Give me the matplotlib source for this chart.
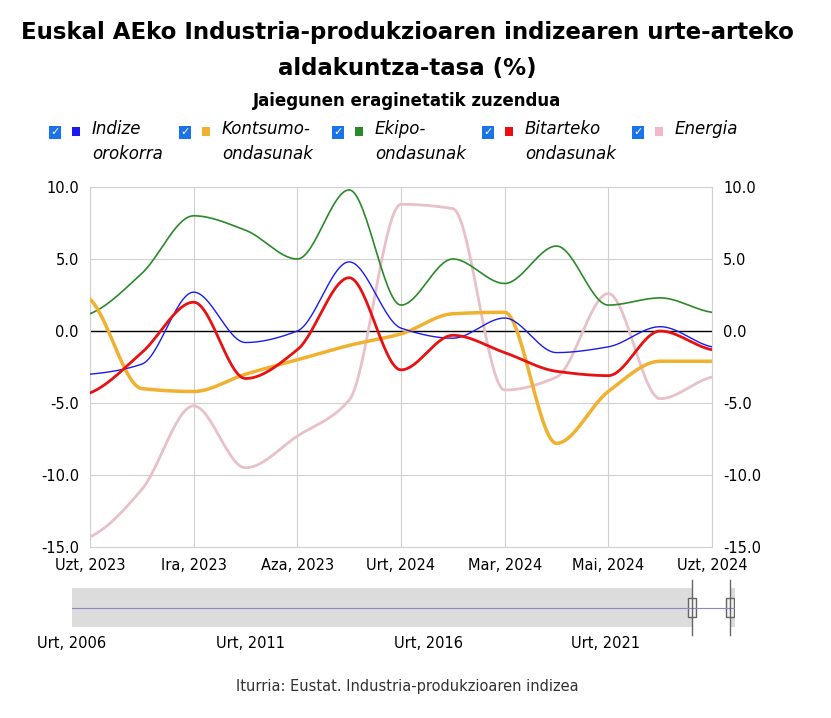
import numpy as np
import matplotlib
matplotlib.use("Agg")
import matplotlib.pyplot as plt
from matplotlib.patches import Rectangle

months = ["Uzt, 2023","Abu","Ira, 2023","Urr","Aza, 2023","Abe","Urt, 2024","Ots","Mar, 2024","Api","Mai, 2024","Eka","Uzt, 2024"]
indize = [-3.0,-2.3,2.7,-0.8,0.0,4.8,0.2,-0.5,0.9,-1.5,-1.1,0.3,-1.1]
kontsumo = [2.2,-4.0,-4.2,-3.0,-2.0,-1.0,-0.2,1.2,1.3,-7.8,-4.2,-2.1,-2.1]
ekipo = [1.2,4.0,8.0,7.0,5.0,9.8,1.8,5.0,3.3,5.9,1.8,2.3,1.3]
bitarteko = [-4.3,-1.5,2.0,-3.3,-1.3,3.7,-2.7,-0.3,-1.5,-2.8,-3.1,0.0,-1.3]
energia = [-14.3,-11.0,-5.2,-9.5,-7.3,-4.8,8.8,8.5,-4.1,-3.2,2.6,-4.7,-3.2]
nav_labels = ["Urt, 2006","Urt, 2011","Urt, 2016","Urt, 2021"]

def spline(y, n=30):
    # monotone cubic (PCHIP-like) interpolation
    y = np.asarray(y, float)
    N = len(y)
    d = np.diff(y)
    m = np.zeros(N)
    for i in range(1, N-1):
        if d[i-1]*d[i] > 0:
            m[i] = 2/(1/d[i-1] + 1/d[i])
    m[0] = d[0]*0.5; m[-1] = d[-1]*0.5
    xs, ys = [], []
    for i in range(N-1):
        t = np.linspace(0, 1, n, endpoint=False)
        h00 = 2*t**3-3*t**2+1; h10 = t**3-2*t**2+t; h01 = -2*t**3+3*t**2; h11 = t**3-t**2
        ys.append(h00*y[i]+h10*m[i]+h01*y[i+1]+h11*m[i+1])
        xs.append(i+t)
    xs.append([N-1]); ys.append([y[-1]])
    return np.concatenate(xs), np.concatenate(ys)

fig = plt.figure(figsize=(8.31,7.18), dpi=100)
ax = fig.add_axes([90/831, 1-547/718, 622/831, 360/718])
series = [(energia,"#e8c0c8",2.0),(ekipo,"#2a8a2a",1.2),(kontsumo,"#f0b030",2.5),(indize,"#1a1aee",1.0),(bitarteko,"#e81010",2.0)]
for d,c,lw in series:
    xs, ys = spline(d)
    ax.plot(xs, ys, color=c, lw=lw, zorder=3)
ax.axhline(0, color="black", lw=1, zorder=2)
ax.set_xlim(0,12); ax.set_ylim(-15,10)
ax.set_xticks(range(0,13,2)); ax.set_xticklabels(months[::2])
ax.set_yticks([-15,-10,-5,0,5,10]); ax.set_yticklabels([f"{v:.1f}" for v in [-15,-10,-5,0,5,10]])
ax.grid(True, color="#d0d0d0", lw=0.8)
for s in ax.spines.values(): s.set_color("#d0d0d0")
ax.tick_params(length=0, labelsize=10.5, pad=8)
ax2 = ax.twinx(); ax2.set_ylim(-15,10)
ax2.set_yticks([-15,-10,-5,0,5,10]); ax2.set_yticklabels([f"{v:.1f}" for v in [-15,-10,-5,0,5,10]])
ax2.tick_params(length=0, labelsize=10.5, pad=8)
for s in ax2.spines.values(): s.set_visible(False)

fig.text(0.49, 1-32/718, "Euskal AEko Industria-produkzioaren indizearen urte-arteko", ha="center", va="center", fontsize=16.5, weight="bold")
fig.text(0.49, 1-68/718, "aldakuntza-tasa (%)", ha="center", va="center", fontsize=16.5, weight="bold")
fig.text(0.49, 1-101/718, "Jaiegunen eraginetatik zuzendua", ha="center", va="center", fontsize=12, weight="bold")

leg = [("Indize\norokorra","#1a1aee",55),("Kontsumo-\nondasunak","#f0b030",185),("Ekipo-\nondasunak","#2a8a2a",338),("Bitarteko\nondasunak","#e81010",488),("Energia","#f0b8c8",638)]
for txt,c,x in leg:
    fig.patches.append(Rectangle(((x-6)/831, 1-139/718), 12/831, 13/718, transform=fig.transFigure, facecolor="#1a73e8", edgecolor="none"))
    fig.text(x/831, 1-132/718, "✓", color="white", fontsize=8, ha="center", va="center", weight="bold")
    fig.patches.append(Rectangle(((x+17)/831, 1-136/718), 8/831, 9/718, transform=fig.transFigure, facecolor=c, edgecolor="none"))
    fig.text((x+37)/831, 1-120/718, txt, fontsize=12, style="italic", ha="left", va="top", linespacing=1.5)

# navigator
nav = fig.add_axes([72/831, 1-627/718, 663/831, 39/718])
nav.set_xlim(0,663); nav.set_ylim(0,1)
nav.add_patch(Rectangle((0,0),620,1,facecolor="#dcdcdc",edgecolor="none"))
nav.add_patch(Rectangle((658,0),5,1,facecolor="#dcdcdc",edgecolor="none"))
nav.plot([0,663],[0.5,0.5],color="#8a8ac0",lw=0.8)
for hx in (620,658):
    nav.plot([hx,hx],[-0.2,1.2],color="#666",lw=1,clip_on=False)
    nav.add_patch(Rectangle((hx-4,0.25),8,0.5,facecolor="#f2f2f2",edgecolor="#666",lw=1))
nav.axis("off")
for lab,px in zip(nav_labels,[72,250,428,606]):
    fig.text(px/831, 1-644/718, lab, ha="center", va="center", fontsize=10.5)
fig.text(0.49, 1-687/718, "Iturria: Eustat. Industria-produkzioaren indizea", ha="center", va="center", fontsize=10.5, color="#333")
fig.savefig("out.png", dpi=100)
